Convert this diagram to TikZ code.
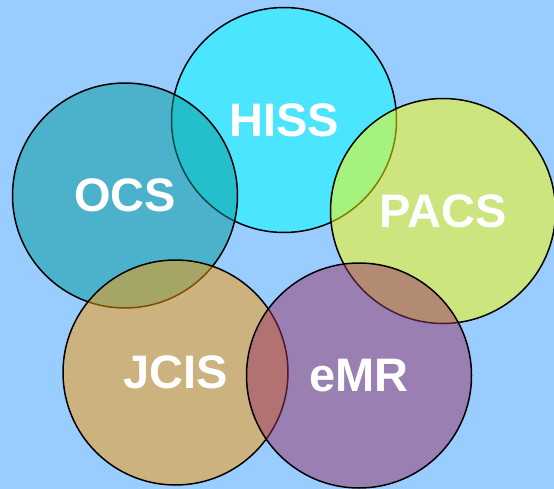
\documentclass[tikz,border=0pt]{standalone}
\usepackage{fontspec}
\setmainfont{Liberation Sans}
\definecolor{bgblue}{RGB}{153,204,255}
\definecolor{hisscol}{RGB}{0,255,255}
\definecolor{ocscol}{RGB}{0,153,153}
\definecolor{pacscol}{RGB}{255,255,0}
\definecolor{jciscol}{RGB}{255,153,0}
\definecolor{emrcol}{RGB}{153,51,102}
\tikzset{
  ring/.style={circle, draw=black, line width=1.5pt, fill opacity=0.5, minimum size=225pt, inner sep=0pt},
  ringlabel/.style={text=white, font=\fontsize{47}{47}\selectfont\bfseries, inner sep=0pt}
}
\begin{document}
\begin{tikzpicture}[x=1pt,y=-1pt]
\fill[bgblue] (0,0) rectangle (554,489);
\useasboundingbox (0,0) rectangle (554,489);
\node[ring, fill=hisscol] (hiss) at (284,120) {};
\node[ring, fill=ocscol] (ocs) at (125,195.5) {};
\node[ring, fill=pacscol] (pacs) at (443,211) {};
\node[ring, fill=jciscol] (jcis) at (175.5,372.5) {};
\node[ring, fill=emrcol] (emr) at (359,375.5) {};
\node[ringlabel] (hisst) at (hiss.center) {HISS};
\node[ringlabel] (ocst) at (ocs.center) {OCS};
\node[ringlabel] (pacst) at (pacs.center) {PACS};
\node[ringlabel] (jcist) at (jcis.center) {JCIS};
\node[ringlabel] (emrt) at (emr.center) {eMR};
\end{tikzpicture}
\end{document}
